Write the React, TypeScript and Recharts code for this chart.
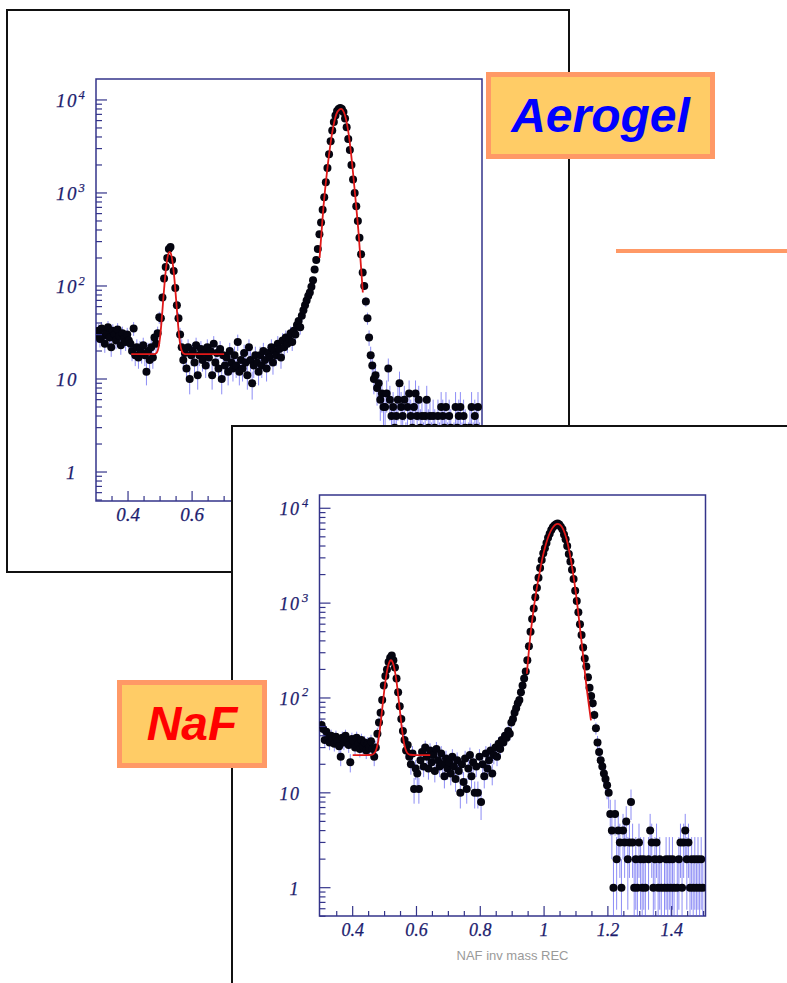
import React from "react";
import { ComposedChart, Scatter, XAxis, YAxis, ErrorBar, ReferenceArea } from "recharts";

// histogram binning: 240 bins of 0.005 from 0.3 to 1.5
const BIN_LOW = 0.3;
const BIN_WIDTH = 0.005;

// Aerogel counts per bin, one row = 0.1 in mass
const aerogelCounts = [
  30, 33, 27, 35, 29, 24, 31, 36, 28, 22, 33, 30, 26, 34, 29, 23, 31, 27, 25, 30,
  26, 24, 20, 35, 18, 22, 17, 21, 19, 23, 18, 12, 20, 16, 22, 17, 28, 24, 31, 46,
  45, 75, 120, 160, 200, 250, 262, 190, 145, 95, 62, 45, 30, 22, 16, 19, 13, 22, 10, 18,
  20, 15, 23, 11, 18, 21, 16, 19, 14, 22, 17, 20, 11, 24, 15, 19, 13, 21, 10, 18,
  14, 17, 12, 20, 15, 13, 18, 14, 25, 12, 16, 13, 19, 15, 11, 22, 16, 9, 14, 18,
  15, 12, 18, 14, 20, 16, 13, 19, 17, 22, 15, 20, 18, 24, 21, 17, 26, 22, 28, 24,
  27, 31, 25, 33, 30, 38, 42, 36, 48, 55, 62, 70, 78, 85, 98, 115, 150, 190, 250, 360,
  480, 660, 900, 1300, 1850, 2600, 3600, 4700, 5800, 6800, 7600, 8000, 8200, 8000, 7400, 6300, 5100, 3800, 2900, 2000,
  1400, 1000, 720, 500, 330, 220, 140, 100, 68, 45, 28, 18, 14, 10, 11, 8, 9, 6, 7, 5,
  5, 7, 13, 6, 4, 5, 3, 4, 6, 9, 5, 4, 6, 2, 5, 7, 4, 3, 5, 7,
  4, 6, 3, 4, 2, 4, 6, 3, 4, 2, 4, 3, 1, 4, 2, 5, 4, 3, 5, 2,
  4, 3, 1, 2, 5, 3, 4, 5, 2, 4, 3, 1, 2, 3, 5, 2, 4, 3, 5, 2,
];

// NaF counts per bin
const nafCounts = [
  52, 47, 36, 44, 38, 34, 40, 37, 33, 39, 35, 31, 24, 38, 34, 40, 36, 32, 21, 37,
  35, 30, 38, 33, 29, 36, 31, 34, 28, 33, 30, 35, 29, 24, 30, 42, 55, 70, 95, 135,
  170, 200, 240, 265, 280, 250, 210, 160, 115, 82, 60, 45, 36, 28, 32, 24, 20, 26, 11, 18,
  16, 11, 22, 27, 19, 30, 24, 18, 28, 21, 25, 17, 29, 22, 19, 26, 20, 15, 23, 18,
  21, 16, 24, 19, 14, 22, 17, 10, 20, 13, 23, 11, 18, 25, 15, 21, 10, 19, 10, 24,
  8, 20, 15, 26, 18, 22, 28, 16, 25, 30, 24, 33, 29, 36, 34, 40, 38, 45, 42, 55,
  60, 70, 78, 88, 95, 115, 135, 160, 190, 250, 350, 500, 680, 880, 1150, 1450, 1850, 2350, 2850, 3350,
  3800, 4300, 4900, 5400, 5900, 6300, 6600, 6800, 6900, 6750, 6400, 6000, 5300, 4700, 4000, 3300, 2750, 2250, 1800, 1350,
  1050, 800, 600, 460, 340, 260, 215, 165, 128, 105, 88, 66, 48, 34, 27, 22, 19, 16, 14, 12,
  10, 6, 4, 1, 6, 2, 4, 3, 1, 4, 3, 5, 2, 3, 8, 3, 1, 2, 1, 3,
  2, 1, 2, 1, 0, 2, 4, 3, 1, 2, 3, 1, 2, 1, 0, 1, 2, 1, 2, 1,
  2, 1, 0, 1, 2, 3, 1, 3, 4, 2, 3, 1, 2, 1, 2, 1, 2, 1, 2, 1,
];

// fitted curves (red)
const aerogelPeak1X = [0.41, 0.42, 0.43, 0.44, 0.45, 0.46, 0.47, 0.48, 0.485, 0.49, 0.495, 0.5, 0.505, 0.51, 0.515, 0.52, 0.525, 0.53, 0.535, 0.54, 0.545, 0.55, 0.555, 0.56, 0.565, 0.57, 0.575, 0.58, 0.59, 0.6, 0.65, 0.7];
const aerogelPeak1Y = [18.5, 18.5, 18.5, 18.5, 18.5, 18.5, 18.5, 18.5, 18.7, 19.3, 21.6, 28, 43, 72, 117, 170, 216, 233, 216, 170, 117, 72, 43, 28, 21.6, 19.3, 18.7, 18.5, 18.5, 18.5, 18.5, 18.5];
const aerogelPeak2X = [0.998, 1.005, 1.01, 1.02, 1.03, 1.04, 1.05, 1.06, 1.065, 1.07, 1.08, 1.09, 1.1, 1.11, 1.12, 1.133];
const aerogelPeak2Y = [200, 420, 700, 1550, 3000, 5000, 7000, 7900, 8000, 7800, 6300, 4000, 2000, 870, 360, 85];

const nafPeak1X = [0.4, 0.42, 0.44, 0.46, 0.465, 0.47, 0.475, 0.48, 0.485, 0.49, 0.495, 0.5, 0.505, 0.51, 0.515, 0.52, 0.525, 0.53, 0.535, 0.54, 0.545, 0.55, 0.555, 0.56, 0.565, 0.57, 0.575, 0.58, 0.6, 0.62, 0.643];
const nafPeak1Y = [25, 25, 25, 25.2, 25.6, 26.7, 29.3, 35, 45.6, 64, 91, 128, 170, 210, 239, 250, 239, 210, 170, 128, 91, 64, 45.6, 35, 29.3, 26.7, 25.6, 25.2, 25, 25, 25];
const nafPeak2X = [0.946, 0.955, 0.965, 0.975, 0.985, 0.995, 1.005, 1.015, 1.025, 1.035, 1.0425, 1.05, 1.06, 1.07, 1.08, 1.09, 1.1, 1.11, 1.12, 1.13, 1.147];
const nafPeak2Y = [180, 390, 760, 1300, 2000, 3000, 4100, 5200, 6100, 6700, 6850, 6700, 6000, 4800, 3400, 2150, 1250, 650, 330, 160, 58];

// axes
const xMajorTicks = [0.4, 0.6, 0.8, 1.0, 1.2, 1.4];
const xTickLabels = ["0.4", "0.6", "0.8", "1", "1.2", "1.4"];
const xMinorTicks = [0.35, 0.45, 0.5, 0.55, 0.65, 0.7, 0.75, 0.85, 0.9, 0.95, 1.05, 1.1, 1.15, 1.25, 1.3, 1.35, 1.45, 1.5];
const yMajorTicks = [1, 10, 100, 1000, 10000];
const yExponents = [0, 1, 2, 3, 4];
const yMinorTicks = [
  0.5, 0.6, 0.7, 0.8, 0.9,
  2, 3, 4, 5, 6, 7, 8, 9,
  20, 30, 40, 50, 60, 70, 80, 90,
  200, 300, 400, 500, 600, 700, 800, 900,
  2000, 3000, 4000, 5000, 6000, 7000, 8000, 9000,
];

const AXIS = "#34348a";
const LABEL = "#1c1c6e";
const SERIF = "'Liberation Serif', 'Times New Roman', serif";
const SANS = "'Liberation Sans', Arial, sans-serif";

const xTicks = [...xMajorTicks, ...xMinorTicks].sort((a, b) => a - b);
const yTicks = [...yMajorTicks, ...yMinorTicks].sort((a, b) => a - b);

const Y_AXIS_W = 50;
const X_AXIS_H = 30;

function toPoints(counts: number[], floor: number) {
  return counts
    .map((n, i) => {
      const s = Math.sqrt(n);
      return { x: BIN_LOW + BIN_WIDTH * (i + 0.5), y: n, err: [n - Math.max(n - s, floor), s] };
    })
    .filter((p) => p.y > 0);
}

function toCurve(xs: number[], ys: number[]) {
  return xs.map((x, i) => ({ x, y: ys[i] }));
}

type PanelCfg = {
  left: number;
  top: number;
  width: number;
  height: number;
  plot: { left: number; top: number; right: number; bottom: number };
  xDomain: [number, number];
  yDomain: [number, number];
  fontSize: number;
  oneOffset: number;
  supOffset: number;
  supDy: number;
  title?: string;
};

function Panel({ cfg, counts, fits }: { cfg: PanelCfg; counts: number[]; fits: { x: number; y: number }[][] }) {
  const points = toPoints(counts, cfg.yDomain[0]);
  const margin = {
    left: cfg.plot.left - Y_AXIS_W,
    top: cfg.plot.top,
    right: cfg.width - cfg.plot.right,
    bottom: cfg.height - cfg.plot.bottom - X_AXIS_H,
  };
  const txt = {
    fontFamily: SERIF,
    fontStyle: "italic",
    fill: LABEL,
    stroke: LABEL,
    strokeWidth: 0.25,
  } as const;

  const xTick = (props: any) => {
    const { x, y, payload } = props;
    const idx = xMajorTicks.findIndex((m) => Math.abs(m - payload.value) < 1e-6);
    return (
      <g>
        <line x1={x} x2={x} y1={y} y2={y - (idx >= 0 ? 10 : 5)} stroke={AXIS} strokeWidth={1.2} />
        {idx >= 0 && (
          <text x={x} y={y + 20} textAnchor="middle" fontSize={cfg.fontSize} {...txt}>
            {xTickLabels[idx]}
          </text>
        )}
      </g>
    );
  };

  const yTick = (props: any) => {
    const { x, y, payload } = props;
    const idx = yMajorTicks.findIndex((m) => Math.abs(m - payload.value) < 1e-9);
    const exp = idx >= 0 ? yExponents[idx] : -1;
    return (
      <g>
        <line x1={x} x2={x + (idx >= 0 ? 11 : 6)} y1={y} y2={y} stroke={AXIS} strokeWidth={1.2} />
        {exp === 0 && (
          <text x={x - cfg.oneOffset} y={y + 7} fontSize={cfg.fontSize} {...txt}>
            1
          </text>
        )}
        {exp >= 1 && (
          <text x={x - 40} y={y + 7} fontSize={cfg.fontSize} {...txt}>
            <tspan>1</tspan>
            <tspan dx={1.5}>0</tspan>
          </text>
        )}
        {exp >= 2 && (
          <text x={x - cfg.supOffset} y={y + cfg.supDy} fontSize={12.5} {...txt}>
            {exp}
          </text>
        )}
      </g>
    );
  };

  return (
    <div style={{ position: "absolute", left: cfg.left, top: cfg.top }}>
      <ComposedChart width={cfg.width} height={cfg.height} margin={margin}>
        <XAxis
          type="number"
          dataKey="x"
          domain={cfg.xDomain}
          allowDataOverflow
          ticks={xTicks}
          interval={0}
          tick={xTick}
          tickLine={false}
          axisLine={false}
          tickSize={0}
          tickMargin={0}
          height={X_AXIS_H}
          label={cfg.title ? { value: cfg.title, position: "bottom", offset: 5, fill: "#9a9a9a", fontSize: 13, fontFamily: SANS } : undefined}
        />
        <YAxis
          type="number"
          dataKey="y"
          scale="log"
          domain={cfg.yDomain}
          allowDataOverflow
          ticks={yTicks}
          interval={0}
          tick={yTick}
          tickLine={false}
          axisLine={false}
          tickSize={0}
          tickMargin={0}
          width={Y_AXIS_W}
        />
        <ReferenceArea
          x1={cfg.xDomain[0]}
          x2={cfg.xDomain[1]}
          y1={cfg.yDomain[0]}
          y2={cfg.yDomain[1]}
          fill="none"
          fillOpacity={0}
          stroke={AXIS}
          strokeWidth={1.5}
          ifOverflow="visible"
        />
        <Scatter
          data={points}
          dataKey="y"
          isAnimationActive={false}
          shape={(p: any) => <circle cx={p.cx} cy={p.cy} r={4} fill="#050510" />}
        >
          <ErrorBar dataKey="err" direction="y" width={0} stroke="#5050f0" strokeOpacity={0.65} strokeWidth={1} isAnimationActive={false} />
        </Scatter>
        {fits.map((f, i) => (
          <Scatter
            key={i}
            data={f}
            dataKey="y"
            line={{ stroke: "#e01818", strokeWidth: 1.8 }}
            lineJointType="monotoneX"
            shape={() => <g />}
            isAnimationActive={false}
          />
        ))}
      </ComposedChart>
    </div>
  );
}

const aerogelCfg: PanelCfg = {
  left: 0,
  top: 0,
  width: 560,
  height: 560,
  plot: { left: 96, top: 79, right: 482, bottom: 501 },
  xDomain: [0.3, 1.505],
  yDomain: [0.488, 16800],
  fontSize: 19,
  oneOffset: 30,
  supOffset: 17.5,
  supDy: -0.5,
};

const nafCfg: PanelCfg = {
  left: 240,
  top: 440,
  width: 540,
  height: 540,
  plot: { left: 319.5 - 240, top: 495 - 440, right: 705.5 - 240, bottom: 916 - 440 },
  xDomain: [0.296, 1.506],
  yDomain: [0.503, 13800],
  fontSize: 18,
  oneOffset: 30,
  supOffset: 17.5,
  supDy: -1.5,
  title: "NAF inv mass REC",
};

function Tag({ text, color, left, top, width, height }: { text: string; color: string; left: number; top: number; width: number; height: number }) {
  return (
    <div
      style={{
        position: "absolute",
        left,
        top,
        width,
        height,
        boxSizing: "border-box",
        border: "5px solid #ff9966",
        background: "#ffcc66",
        display: "flex",
        alignItems: "center",
        justifyContent: "center",
        fontFamily: SANS,
        fontWeight: "bold",
        fontStyle: "italic",
        fontSize: 48,
        lineHeight: "48px",
        color,
      }}
    >
      {text}
    </div>
  );
}

export default function App() {
  return (
    <div style={{ position: "absolute", left: 0, top: 0, width: 787, height: 983, background: "#fff", overflow: "hidden" }}>
      <div style={{ position: "absolute", left: 6, top: 9, width: 564, height: 564, boxSizing: "border-box", border: "2px solid #111", background: "#fff" }} />
      <Panel
        cfg={aerogelCfg}
        counts={aerogelCounts}
        fits={[toCurve(aerogelPeak1X, aerogelPeak1Y), toCurve(aerogelPeak2X, aerogelPeak2Y)]}
      />
      <Tag text="Aerogel" color="#0000ff" left={486} top={72} width={229} height={87} />
      <div style={{ position: "absolute", left: 616, top: 249, width: 171, height: 3.5, background: "#ff9966" }} />
      <div style={{ position: "absolute", left: 231, top: 425, width: 600, height: 600, boxSizing: "border-box", border: "2px solid #111", background: "#fff" }} />
      <Panel
        cfg={nafCfg}
        counts={nafCounts}
        fits={[toCurve(nafPeak1X, nafPeak1Y), toCurve(nafPeak2X, nafPeak2Y)]}
      />
      <Tag text="NaF" color="#ff0000" left={117} top={680} width={150} height={88} />
    </div>
  );
}
